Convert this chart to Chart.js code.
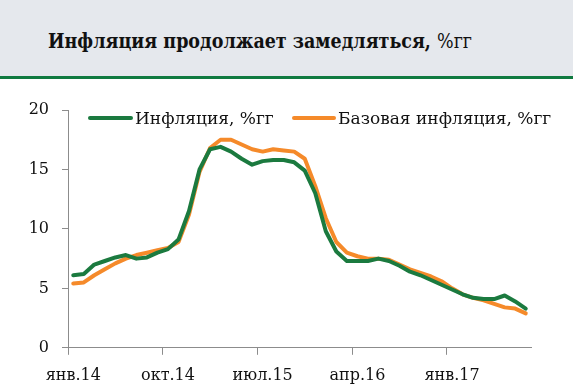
<!DOCTYPE html>
<html>
<head>
<meta charset="utf-8">
<script src="https://cdn.jsdelivr.net/npm/chart.js@4.4.0/dist/chart.umd.min.js"></script>
<style>
  html, body { margin: 0; padding: 0; background: #fff; overflow: hidden; }
  #wrap { position: relative; width: 573px; height: 390px; overflow: hidden; }
  #header { position: absolute; left: 0; top: 0; width: 573px; height: 76px; background: #E5E8ED; border-bottom: 3px solid #0F7A40; }
  #title { position: absolute; left: 48px; top: 29px; font-family: "DejaVu Serif", serif; font-size: 20px; font-weight: bold; color: #111; white-space: nowrap; transform: scaleX(0.875); transform-origin: 0 50%; }
  #title span { font-weight: normal; }
  #chart { position: absolute; left: 0; top: 0; }
  .leg { position: absolute; font-family: "DejaVu Serif", serif; font-size: 17px; color: #111; white-space: nowrap; line-height: 20px; }
  .sw { position: absolute; height: 4px; border-radius: 2px; }
</style>
</head>
<body>
<div id="wrap">
  <div id="header"><div id="title">Инфляция продолжает замедляться, <span>%гг</span></div></div>
  <canvas id="chart" width="573" height="396"></canvas>
  <div class="sw" style="left:88px; top:116px; width:45px; background:#1B7A3F;"></div>
  <div class="leg" style="left:135px; top:108px;">Инфляция, %гг</div>
  <div class="sw" style="left:292px; top:116px; width:44px; background:#F58A2A;"></div>
  <div class="leg" style="left:338px; top:108px;">Базовая инфляция, %гг</div>
</div>
<script>
const months = ['янв','фев','мар','апр','май','июн','июл','авг','сен','окт','ноя','дек'];
const categories = [];
for (let y = 14; y <= 17; y++) for (let m = 0; m < 12; m++) categories.push(months[m] + '.' + y);
categories.length = 44; // янв.14 – авг.17

const inflation = [6.1, 6.2, 7.0, 7.3, 7.6, 7.8, 7.5, 7.6, 8.0, 8.3, 9.1, 11.5,
                   15.0, 16.7, 16.9, 16.5, 15.9, 15.4, 15.7, 15.8, 15.8, 15.6, 14.9, 13.0,
                   9.8, 8.1, 7.3, 7.3, 7.3, 7.5, 7.3, 6.9, 6.4, 6.1, 5.7, 5.3,
                   4.9, 4.5, 4.2, 4.1, 4.1, 4.4, 3.9, 3.3];
const coreInflation = [5.4, 5.5, 6.1, 6.6, 7.1, 7.5, 7.8, 8.0, 8.2, 8.4, 8.9, 11.2,
                       14.8, 16.8, 17.5, 17.5, 17.1, 16.7, 16.5, 16.7, 16.6, 16.5, 15.9, 13.6,
                       10.9, 8.9, 8.0, 7.7, 7.5, 7.5, 7.4, 7.0, 6.6, 6.3, 6.0, 5.6,
                       5.0, 4.5, 4.2, 4.0, 3.7, 3.4, 3.3, 2.9];
const yTicks = [0, 5, 10, 15, 20];
const labelEvery = 9;

const axisGray = '#8C8C8C';
const font = { family: "'DejaVu Serif', serif", size: 16 };

new Chart(document.getElementById('chart'), {
  type: 'line',
  data: {
    labels: categories,
    datasets: [
      { label: 'Инфляция, %гг', data: inflation, borderColor: '#1B7A3F', backgroundColor: '#1B7A3F',
        borderWidth: 4, pointRadius: 0, tension: 0, borderJoinStyle: 'round', borderCapStyle: 'round' },
      { label: 'Базовая инфляция, %гг', data: coreInflation, borderColor: '#F58A2A', backgroundColor: '#F58A2A',
        borderWidth: 4, pointRadius: 0, tension: 0, borderJoinStyle: 'round', borderCapStyle: 'round' }
    ]
  },
  options: {
    responsive: false,
    animation: false,
    events: [],
    layout: { padding: { top: 110, right: 42, bottom: 0, left: 0 } },
    plugins: { legend: { display: false }, tooltip: { enabled: false }, title: { display: false } },
    scales: {
      x: {
        type: 'category',
        offset: true,
        grid: { offset: true, drawOnChartArea: false, drawTicks: true, tickLength: 7,
                tickColor: (ctx) => (ctx.index % labelEvery === 0 ? axisGray : 'rgba(0,0,0,0)') },
        border: { color: axisGray, width: 1 },
        ticks: { autoSkip: false, maxRotation: 0, minRotation: 0, color: '#111', font: font, padding: 11,
                 callback: (v, i) => (i % labelEvery === 0 ? categories[i] : '') }
      },
      y: {
        min: 0, max: 20,
        afterBuildTicks: (s) => { s.ticks = yTicks.map(v => ({ value: v })); },
        afterFit: (s) => { s.width = 68; },
        grid: { drawOnChartArea: false, drawTicks: true, tickLength: 6, tickColor: axisGray },
        border: { color: axisGray, width: 1 },
        ticks: { color: '#111', font: font, padding: 13 }
      }
    }
  }
});
</script>
</body>
</html>
